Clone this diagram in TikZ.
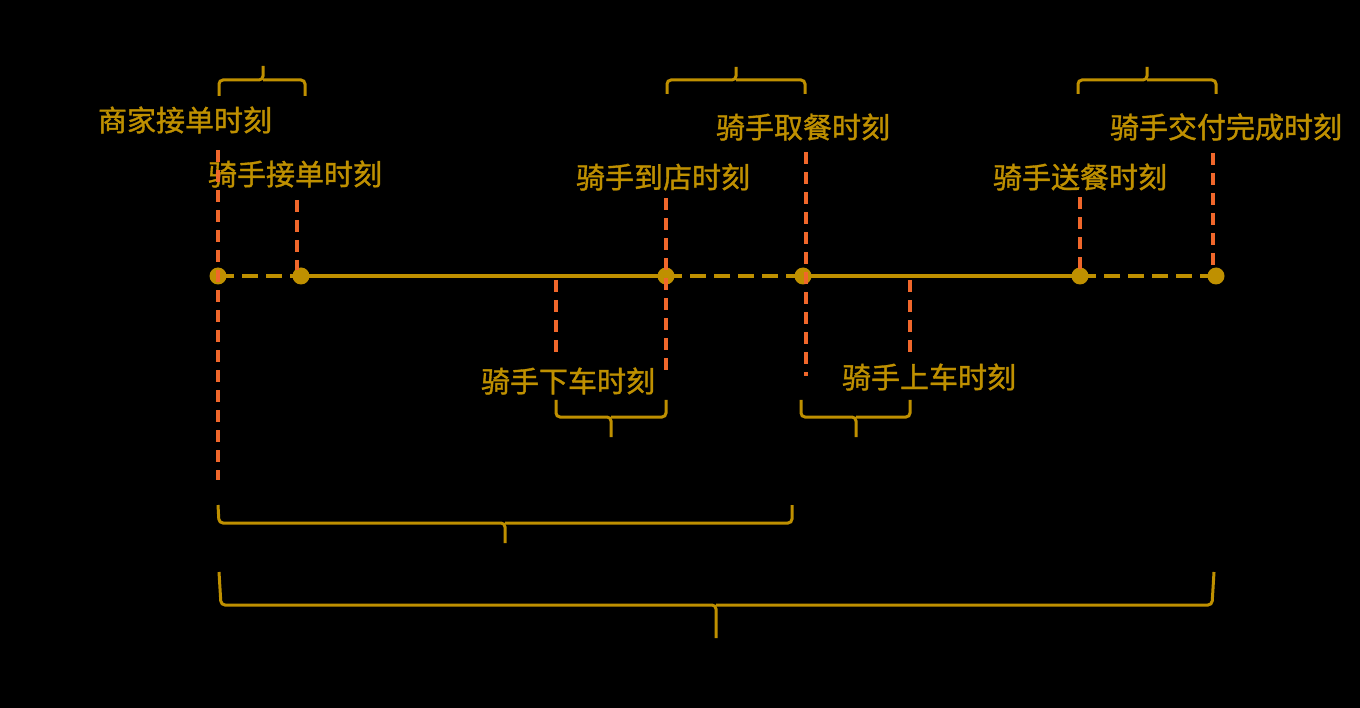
\documentclass[tikz,border=0pt]{standalone}
\usepackage{fontspec}
\newfontfamily\cjk[FakeBold=1.2]{Noto Sans CJK SC}
\definecolor{gold}{HTML}{BF9000}
\definecolor{ora}{HTML}{F0672B}
\begin{document}
\begin{tikzpicture}[x=1pt,y=-1pt,
  lbl/.style={text=gold,font=\cjk\fontsize{29}{31}\selectfont,inner sep=0pt,anchor=center},
  dotn/.style={circle,fill=gold,minimum size=17pt,inner sep=0pt},
  solidseg/.style={gold,line width=4.5pt},
  dashseg/.style={gold,line width=4.5pt,dash pattern=on 16pt off 8pt},
  oramark/.style={ora,line width=3.5pt,dash pattern=on 12pt off 8pt},
  bracket/.style={gold,line width=3pt,rounded corners=4pt}]
\fill[black] (0,0) rectangle (1360,708);
\useasboundingbox (0,0) rectangle (1360,708);
% timeline points
\node[dotn] (p1) at (218,276) {};
\node[dotn] (p2) at (301,276) {};
\node[dotn] (p3) at (666,276) {};
\node[dotn] (p4) at (803,276) {};
\node[dotn] (p5) at (1080,276) {};
\node[dotn] (p6) at (1216,276) {};
\draw[dashseg] (p1.center) -- (p2.center);
\draw[solidseg] (p2.center) -- (p3.center);
\draw[dashseg] (p3.center) -- (p4.center);
\draw[solidseg] (p4.center) -- (p5.center);
\draw[dashseg] (p5.center) -- (p6.center);
% labels
\node[lbl] (t1) at (185,120) {商家接单时刻};
\node[lbl] (t2) at (295,174) {骑手接单时刻};
\node[lbl] (t3) at (663,177) {骑手到店时刻};
\node[lbl] (t4) at (803,127) {骑手取餐时刻};
\node[lbl] (t5) at (1080,177) {骑手送餐时刻};
\node[lbl] (t6) at (1226,127) {骑手交付完成时刻};
\node[lbl] (t7) at (568,381) {骑手下车时刻};
\node[lbl] (t8) at (929,377) {骑手上车时刻};
% orange markers
\coordinate (m1a) at (218,150); \coordinate (m1b) at (218,480);
\coordinate (m2a) at (297,200); \coordinate (m2b) at (297,270);
\coordinate (m3a) at (556,280); \coordinate (m3b) at (556,352);
\coordinate (m4a) at (666,198); \coordinate (m4b) at (666,376);
\coordinate (m5a) at (806,152); \coordinate (m5b) at (806,376);
\coordinate (m6a) at (910,280); \coordinate (m6b) at (910,356);
\coordinate (m7a) at (1080,197); \coordinate (m7b) at (1080,270);
\coordinate (m8a) at (1213,153); \coordinate (m8b) at (1213,270);
\foreach \i in {1,...,8} {\draw[oramark] (m\i a) -- (m\i b);}
% top braces
\draw[bracket] (219,96) -- (219,80) -- (263,80) -- (263,66);
\draw[bracket] (263,80) -- (305,80) -- (305,96);
\draw[bracket] (667,94) -- (667,80) -- (736,80) -- (736,67);
\draw[bracket] (736,80) -- (805,80) -- (805,94);
\draw[bracket] (1078,94) -- (1078,80) -- (1147,80) -- (1147,67);
\draw[bracket] (1147,80) -- (1216,80) -- (1216,94);
% bottom braces
\draw[bracket] (556,400) -- (556,417) -- (611,417) -- (611,437);
\draw[bracket] (611,417) -- (666,417) -- (666,400);
\draw[bracket] (801,400) -- (801,417) -- (856,417) -- (856,437);
\draw[bracket] (856,417) -- (910,417) -- (910,400);
\draw[bracket] (218,505) -- (219,523) -- (505,523) -- (505,543);
\draw[bracket] (505,523) -- (792,523) -- (792,505);
\draw[bracket] (219,572) -- (221,605) -- (716,605) -- (716,638);
\draw[bracket] (716,605) -- (1212,605) -- (1214,572);
\end{tikzpicture}
\end{document}
